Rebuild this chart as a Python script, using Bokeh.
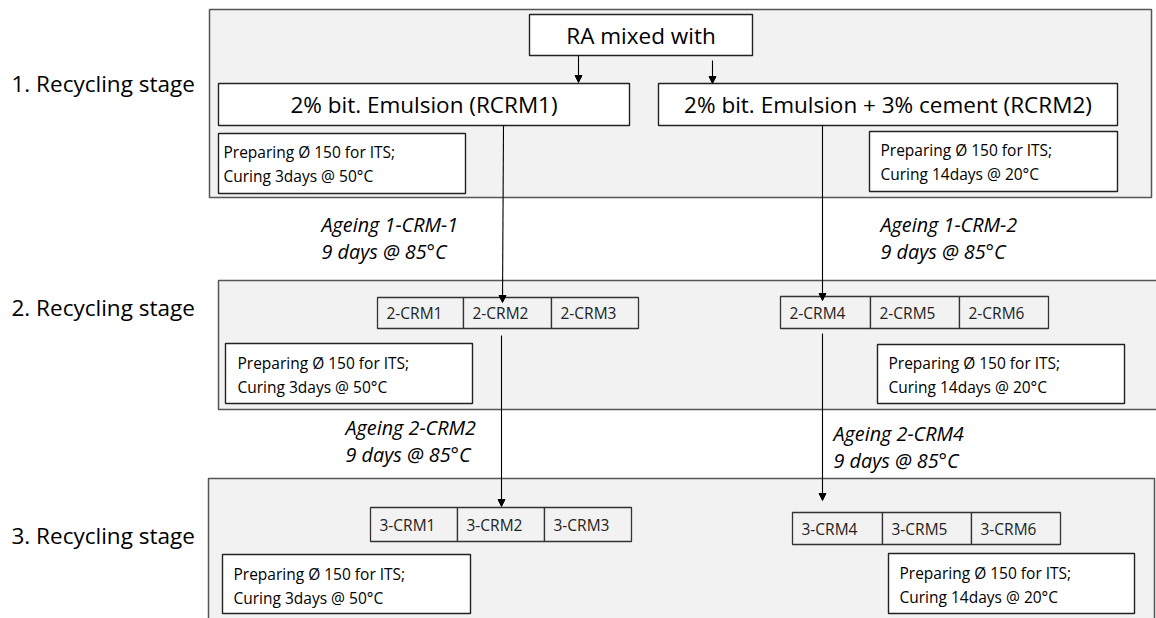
from bokeh.plotting import figure
from bokeh.models import Arrow, NormalHead, Range1d, ColumnDataSource
from bokeh.core.properties import value
from bokeh.embed import file_html
from bokeh.resources import INLINE

# ---------------- data (texts) ----------------
stage_labels = ["1. Recycling stage", "2. Recycling stage", "3. Recycling stage"]
top_box = "RA mixed with"
mix_labels = ["2% bit. Emulsion (RCRM1)", "2% bit. Emulsion + 3% cement (RCRM2)"]
cure_line1 = ["Preparing \u00d8 150 for ITS;", "Preparing \u00d8 150 for ITS;"]
cure_line2 = ["Curing 3days @ 50\u00b0C", "Curing 14days @ 20\u00b0C"]
stage2_crm = ["2-CRM1", "2-CRM2", "2-CRM3", "2-CRM4", "2-CRM5", "2-CRM6"]
stage3_crm = ["3-CRM1", "3-CRM2", "3-CRM3", "3-CRM4", "3-CRM5", "3-CRM6"]
ageing_line1 = ["Ageing 1-CRM-1", "Ageing 1-CRM-2", "Ageing 2-CRM2", "Ageing 2-CRM4"]
ageing_line2 = ["9 days @ 85\u00b0C"] * 4

# ---------------- layout ----------------
FONT = value("Open Sans")
p = figure(width=1156, height=618, output_backend="svg", toolbar_location=None,
           x_range=Range1d(0, 1156), y_range=Range1d(618, 0),
           min_border=0, outline_line_color=None)
p.axis.visible = False
p.grid.visible = False
p.background_fill_color = "white"

# stage panels
panels = dict(left=[209, 218, 208], right=[1151, 1170, 1154],
              top=[9, 280, 478], bottom=[197, 409, 640])
p.quad(source=ColumnDataSource(panels), left="left", right="right", top="top", bottom="bottom",
       fill_color="#f2f2f2", line_color="#555555", line_width=1.5)

# white boxes (top box, mix boxes, curing boxes)
boxes = dict(
    left=[529, 218, 658, 218, 869, 225, 877, 222, 888],
    right=[752, 629, 1117, 465, 1117, 472, 1124, 470, 1134],
    top=[14, 83, 83, 133, 131, 343, 344, 554, 553],
    bottom=[55, 125, 125, 193, 191, 403, 403, 613, 613],
)
p.quad(source=ColumnDataSource(boxes), left="left", right="right", top="top", bottom="bottom",
       fill_color="white", line_color="#222222", line_width=1.4)

# CRM rows
crm_left = [377, 463, 551, 780, 870, 959, 370, 457, 544, 792, 882, 971]
crm_right = [463, 551, 638, 870, 959, 1048, 457, 544, 631, 882, 971, 1060]
crm_top = [297] * 3 + [296] * 3 + [507] * 3 + [512] * 3
crm_bot = [328] * 3 + [328] * 3 + [541] * 3 + [544] * 3
crm_src = ColumnDataSource(dict(left=crm_left, right=crm_right, top=crm_top, bottom=crm_bot,
                                x=[l + 9 for l in crm_left],
                                y=[(t + b) / 2 for t, b in zip(crm_top, crm_bot)],
                                label=stage2_crm + stage3_crm))
p.quad(source=crm_src, left="left", right="right", top="top", bottom="bottom",
       fill_color="#f2f2f2", line_color="#333333", line_width=1.3)
p.text(source=crm_src, x="x", y="y", text="label", text_font=FONT, text_font_size="15.5px",
       text_baseline="middle", text_align="left", text_color="#222222")

# connector lines and arrows
head = lambda: NormalHead(size=7, fill_color="black", line_color="black")
arrows = [(578, 55, 578, 82), (712, 60, 712, 83),
          (503, 125, 502, 302), (822, 125, 822, 300),
          (501, 335, 501, 506), (822, 333, 822, 500)]
for x0, y0, x1, y1 in arrows:
    p.add_layout(Arrow(end=head(), x_start=x0, y_start=y0, x_end=x1, y_end=y1,
                       line_color="black", line_width=1.1))

# stage labels
p.text(x=[11, 11, 11], y=[83, 307, 535], text=stage_labels, text_font=FONT,
       text_font_size="22.5px", text_baseline="middle", text_align="left", text_color="black")

# top box and mix labels
p.text(x=[640.5], y=[35], text=[top_box], text_font=FONT, text_font_size="22.5px",
       text_baseline="middle", text_align="center", text_color="black")
p.text(x=[423.5, 887.5], y=[104, 104], text=mix_labels, text_font=FONT, text_font_size="22.5px",
       text_baseline="middle", text_align="center", text_color="black")

# curing texts
cx = [223, 880, 237, 888, 233, 899]
cy1 = [151, 149, 362, 362, 573, 572]
p.text(x=cx, y=cy1, text=cure_line1 * 3, text_font=FONT, text_font_size="15.5px",
       text_baseline="middle", text_align="left", text_color="black")
p.text(x=cx, y=[y + 24 for y in cy1], text=cure_line2 * 3, text_font=FONT, text_font_size="15.5px",
       text_baseline="middle", text_align="left", text_color="black")

# ageing texts
ax = [321, 880, 345, 833]
ay = [224, 224, 427, 433]
p.text(x=ax, y=ay, text=ageing_line1, text_font=FONT, text_font_size="19.8px",
       text_font_style="italic", text_baseline="middle", text_align="left", text_color="black")
p.text(x=ax, y=[y + 27 for y in ay], text=ageing_line2, text_font=FONT, text_font_size="19.8px",
       text_font_style="italic", text_baseline="middle", text_align="left", text_color="black")

open("out.html", "w").write(file_html(p, INLINE))
